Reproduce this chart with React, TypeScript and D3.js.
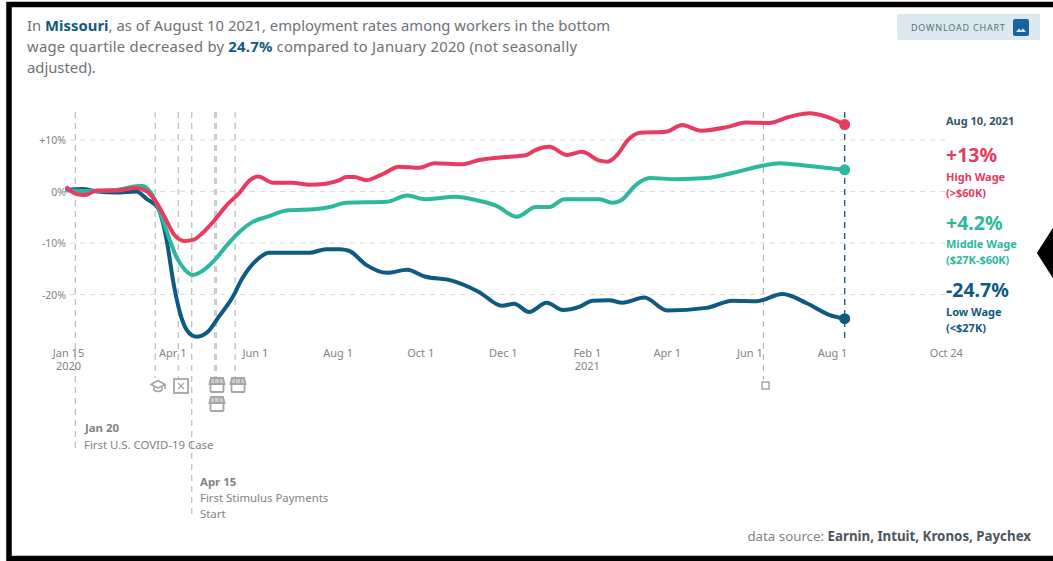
import React from "react";
import * as d3 from "d3";

// Days counted from the first axis tick, Jan 15 2020, paired with percent change.
const highDays = [-1,6,12,21,35,50,58,66,72,78,86,92,100,108,117,126,134,140,151,165,178,190,200,205,211,220,232,244,259,270,291,303,323,338,345,355,368,379,392,398,405,413,422,441,453,467,486,500,517,532,547,560,573];
const highValues = [0.7,-0.5,-0.7,0.2,0.2,0.7,0,-2.6,-5.5,-8.4,-9.6,-9.4,-7.8,-5.5,-2.6,-0.3,2.2,2.9,1.7,1.7,1.3,1.5,2.2,2.8,2.8,2.2,3.4,4.8,4.6,5.5,5.3,6.1,6.7,7.1,8.1,8.7,7.1,7.7,6,5.8,7.1,10,11.4,11.6,12.9,11.8,12.5,13.4,13.3,14.5,15.2,14.5,13];

const middleDays = [-1,18,35,54,61,67,73,80,86,92,99,108,117,126,136,148,161,183,193,205,235,250,263,286,298,316,331,345,355,366,387,392,402,408,419,429,449,471,490,512,525,545,573];
const middleValues = [0.2,0.1,0.3,1.1,-0.3,-3.6,-8.1,-12.9,-15.2,-16.2,-15.4,-13.3,-10.4,-7.9,-5.9,-4.8,-3.7,-3.4,-3,-2.2,-2,-0.8,-1.5,-1,-1.5,-2.8,-4.9,-3,-3,-1.5,-1.5,-1.5,-2.2,-1.7,1.3,2.6,2.4,2.6,3.6,5,5.5,5,4.2];

const lowDays = [-1,10,21,35,50,58,66,72,78,84,91,95,103,111,121,128,139,148,161,178,190,200,207,220,235,250,263,283,303,320,329,340,353,365,377,387,399,409,425,442,471,490,508,527,545,562,573];
const lowValues = [0.3,0.5,0,-0.2,0,-1.5,-3.2,-8.8,-18.5,-25,-27.9,-28.2,-27.2,-24.3,-20.6,-17,-13.3,-11.9,-11.9,-11.9,-11.2,-11.2,-11.5,-14.3,-15.8,-15.2,-16.5,-17.3,-19.5,-22.2,-21.8,-23.4,-21.6,-23,-22.4,-21.2,-21.1,-21.6,-20.6,-23.1,-22.6,-21.2,-21.3,-19.9,-21.7,-24,-24.7];

const yTicks = [10, 0, -10, -20];
const yTickLabels = ["+10%", "0%", "-10%", "-20%"];
const xTickDates = ["2020-01-15","2020-04-01","2020-06-01","2020-08-01","2020-10-01","2020-12-01","2021-02-01","2021-04-01","2021-06-01","2021-08-01","2021-10-24"];
const xTickLabels = ["Jan 15","Apr 1","Jun 1","Aug 1","Oct 1","Dec 1","Feb 1","Apr 1","Jun 1","Aug 1","Oct 24"];
const eventDates = ["2020-01-20","2020-03-19","2020-04-05","2020-04-15","2020-05-02","2020-05-03","2020-05-17","2021-06-11"];

const RED = "#e93a60";
const TEAL = "#2cb89c";
const NAVY = "#0f5a80";
const GREY = "#7d8488";
const FONT = "'Noto Sans', Lato, sans-serif";

const parse = d3.utcParse("%Y-%m-%d");
const start = parse("2020-01-15") as Date;
const asDate = (d: number) => d3.utcDay.offset(start, d);

const x = d3.scaleUtc().domain([start, parse("2021-08-01") as Date]).range([68.5, 832.5]);
const y = d3.scaleLinear().domain([10, -20]).range([140, 294.5]);

const line = d3.line<[number, number]>()
  .x((p) => x(asDate(p[0])))
  .y((p) => y(p[1]))
  .curve(d3.curveMonotoneX);

const series = [
  { name: "low", color: NAVY, days: lowDays, values: lowValues },
  { name: "middle", color: TEAL, days: middleDays, values: middleValues },
  { name: "high", color: RED, days: highDays, values: highValues },
];

const lastDate = asDate(573);

// Shop-front marker used for reopening events.
function Store({ cx, cy }: { cx: number; cy: number }) {
  return (
    <g transform={`translate(${cx},${cy})`} fill="none" stroke="#a3a6a8" strokeWidth={1.8}>
      <rect x={-6.5} y={-1} width={13} height={8} rx={1} />
      <path d="M-7.5,-1 L-6,-7 L6,-7 L7.5,-1 Z" fill="#c9cbcc" />
      <path d="M-2.5,-7 V-1 M2.5,-7 V-1" strokeWidth={1} />
    </g>
  );
}

function Cap({ cx, cy }: { cx: number; cy: number }) {
  return (
    <g transform={`translate(${cx},${cy})`} fill="none" stroke="#a3a6a8" strokeWidth={1.6}>
      <path d="M-7,-1.5 L0,-5.5 L7,-1.5 L0,2 Z" />
      <path d="M-4,1 V4 Q0,7 4,4 V1" />
      <path d="M7,-1.5 V3" />
    </g>
  );
}

function BoxX({ cx, cy }: { cx: number; cy: number }) {
  return (
    <g transform={`translate(${cx},${cy})`} fill="none" stroke="#a3a6a8">
      <rect x={-7} y={-7} width={14} height={14} strokeWidth={1.8} />
      <path d="M-3,-3 L3,3 M3,-3 L-3,3" strokeWidth={1.2} />
    </g>
  );
}

export default function App() {
  const eventX = eventDates.map((d) => x(parse(d) as Date));
  const eventBottoms = [450, 378, 378, 517, 378, 378, 378, 380];

  return (
    <svg
      width={1053}
      height={561}
      viewBox="0 0 1053 561"
      style={{ position: "absolute", left: 0, top: 0, background: "#fff" }}
      fontFamily={FONT}
    >
      {/* Picture frame and the pager arrow */}
      <rect x={9} y={4.5} width={1060} height={554} fill="none" stroke="#000" strokeWidth={5.5} />
      <path d="M1038,253 L1056,225 V281 Z" fill="#000" stroke="#000" strokeWidth={2} strokeLinejoin="round" />

      {/* Headline */}
      <g fontSize={14.8} fill="#6b7276">
        <text x={27} y={31} textLength={583} lengthAdjust="spacing">
          In <tspan fontWeight={700} fill={NAVY}>Missouri</tspan>, as of August 10 2021, employment rates among workers in the bottom
        </text>
        <text x={27} y={52} textLength={550} lengthAdjust="spacing">
          wage quartile decreased by <tspan fontWeight={700} fill={NAVY}>24.7%</tspan> compared to January 2020 (not seasonally
        </text>
        <text x={27} y={73}>adjusted).</text>
      </g>

      {/* Download button */}
      <rect x={897} y={14} width={143} height={26} rx={2} fill="#dbe8ef" />
      <text x={911} y={31} fontSize={9} letterSpacing={0.8} fill="#56707f">DOWNLOAD CHART</text>
      <rect x={1013} y={19} width={16} height={17} rx={2} fill="#1764a0" />
      <path d="M1016,32 L1019,28.5 L1021,30.5 L1023,28.5 L1026,32 Z" fill="#dbe8ef" />

      {/* Horizontal grid */}
      <g stroke="#dcdcdc" strokeWidth={1} strokeDasharray="5 5">
        {yTicks.map((t) => (
          <line key={t} x1={70} x2={945} y1={y(t)} y2={y(t)} />
        ))}
      </g>
      <g fontSize={10.5} fill={GREY} textAnchor="end">
        {yTicks.map((t, i) => (
          <text key={t} x={66} y={y(t) + 4}>{yTickLabels[i]}</text>
        ))}
      </g>

      {/* Event markers */}
      <g stroke="#b2b4b5" strokeWidth={1.1} strokeDasharray="6 5">
        {eventX.map((ex, i) => (
          <line key={i} x1={ex} x2={ex} y1={112} y2={eventBottoms[i]} />
        ))}
      </g>
      <line x1={x(lastDate)} x2={x(lastDate)} y1={112} y2={340} stroke={NAVY} strokeWidth={1.3} strokeDasharray="6 5" />

      {/* Month labels */}
      <g fontSize={11} fill={GREY} textAnchor="middle">
        {xTickDates.map((d, i) => (
          <text key={d + i} x={x(parse(d) as Date)} y={357}>{xTickLabels[i]}</text>
        ))}
        <text x={x(parse(xTickDates[0]) as Date)} y={370}>2020</text>
        <text x={x(parse(xTickDates[6]) as Date)} y={370}>2021</text>
      </g>

      {/* Wage quartile lines */}
      {series.map((s) => (
        <g key={s.name}>
          <path
            d={line(s.days.map((d, i) => [d, s.values[i]] as [number, number])) ?? ""}
            fill="none"
            stroke={s.color}
            strokeWidth={4}
            strokeLinecap="round"
            strokeLinejoin="round"
          />
          <circle cx={x(lastDate)} cy={y(s.values[s.values.length - 1])} r={5.5} fill={s.color} />
        </g>
      ))}

      {/* Event icons */}
      <Cap cx={158} cy={386} />
      <BoxX cx={181} cy={386} />
      <Store cx={217} cy={385} />
      <Store cx={217} cy={404} />
      <Store cx={238} cy={385} />
      <rect x={762} y={382} width={7} height={7} fill="#fff" stroke="#a3a6a8" strokeWidth={1.5} />

      {/* Event notes */}
      <g fontSize={11.4} fill={GREY}>
        <text x={85} y={432} fontWeight={700}>Jan 20</text>
        <text x={84} y={449}>First U.S. COVID-19 Case</text>
        <text x={200} y={486} fontWeight={700}>Apr 15</text>
        <text x={200} y={502}>First Stimulus Payments</text>
        <text x={200} y={518}>Start</text>
      </g>

      {/* End-of-line readout */}
      <text x={946} y={125} fontSize={11} fontWeight={700} fill="#35566a">Aug 10, 2021</text>
      <g fill={RED} fontWeight={700}>
        <text x={946} y={162} fontSize={19.5}>+13%</text>
        <text x={946} y={181} fontSize={11}>High Wage</text>
        <text x={946} y={197} fontSize={11}>(&gt;$60K)</text>
      </g>
      <g fill={TEAL} fontWeight={700}>
        <text x={946} y={230} fontSize={19.5}>+4.2%</text>
        <text x={946} y={248} fontSize={11}>Middle Wage</text>
        <text x={946} y={264} fontSize={11}>($27K-$60K)</text>
      </g>
      <g fill={NAVY} fontWeight={700}>
        <text x={946} y={297} fontSize={19.5}>-24.7%</text>
        <text x={946} y={316} fontSize={11}>Low Wage</text>
        <text x={946} y={332} fontSize={11}>(&lt;$27K)</text>
      </g>

      {/* Source line */}
      <text x={1031} y={541} textAnchor="end" fontSize={13.3} fill={GREY}>
        data source: <tspan fontWeight={700} fill="#4b5560">Earnin, Intuit, Kronos, Paychex</tspan>
      </text>
    </svg>
  );
}
